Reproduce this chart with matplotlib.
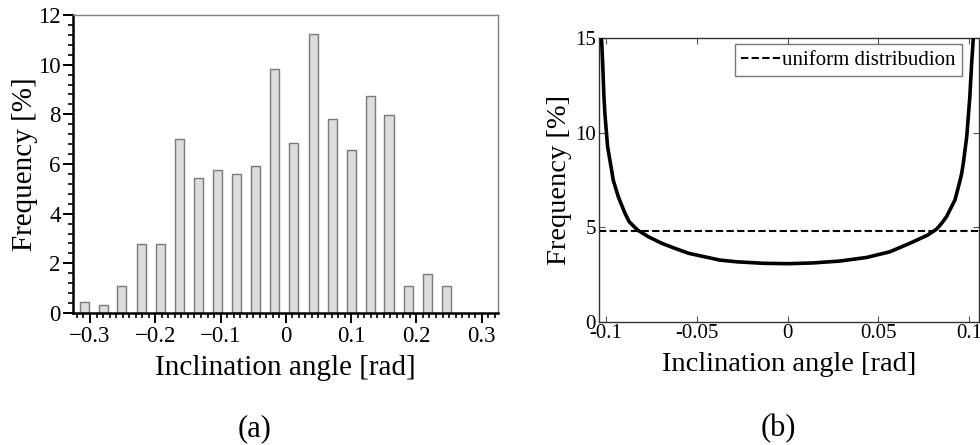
import matplotlib
matplotlib.use("Agg")
import matplotlib.pyplot as plt
from matplotlib.ticker import MultipleLocator, FixedLocator, FixedFormatter

plt.rcParams['font.family'] = ['Liberation Serif', 'DejaVu Serif']

# ---- data (a): histogram of inclination angle ----
bin_centers = [-0.309, -0.280, -0.251, -0.221, -0.192, -0.163, -0.134, -0.104,
               -0.075, -0.046, -0.017, 0.012, 0.042, 0.071, 0.100, 0.129,
               0.158, 0.188, 0.217, 0.246]
freq_a = [0.46, 0.32, 1.10, 2.77, 2.77, 7.00, 5.44, 5.76, 5.60, 5.92, 9.81,
          6.84, 11.23, 7.81, 6.55, 8.73, 7.96, 1.10, 1.57, 1.10]
xticks_a = [-0.3, -0.2, -0.1, 0.0, 0.1, 0.2, 0.3]
xticklabels_a = ['\u22120.3', '\u22120.2', '\u22120.1', '0', '0.1', '0.2', '0.3']
yticks_a = [0, 2, 4, 6, 8, 10, 12]

# ---- data (b): angle distribution curve ----
angle_b = [-0.1024, -0.1018, -0.1011, -0.1006, -0.0991, -0.0969, -0.0960,
           -0.0932, -0.0895, -0.0872, -0.0826, -0.0767, -0.0693, -0.0620,
           -0.0545, -0.0373, -0.0281, -0.0134, 0.0003, 0.0141, 0.0288,
           0.0435, 0.0563, 0.0673, 0.0770, 0.0820, 0.0848, 0.0875, 0.0893,
           0.0921, 0.0950, 0.0958, 0.0967, 0.0986, 0.1003, 0.1013, 0.1022]
freq_b = [14.9, 13.67, 11.9, 11.03, 9.26, 8.03, 7.50,
          6.61, 5.73, 5.29, 4.85, 4.50, 4.15, 3.88,
          3.62, 3.26, 3.17, 3.09, 3.07, 3.11, 3.21,
          3.40, 3.70, 4.15, 4.58, 4.90, 5.21, 5.56, 5.91,
          6.44, 7.50, 7.85, 8.38, 9.8, 11.9, 13.67, 15.0]
uniform_level = 4.8
xticks_b = [-0.1, -0.05, 0.0, 0.05, 0.1]
xticklabels_b = ['-0.1', '-0.05', '0', '0.05', '0.1']
yticks_b = [0, 5, 10, 15]
yticklabels_b = ['0', '5', '10', '15']
legend_label = 'uniform distribudion'

fig = plt.figure(figsize=(9.8, 4.45), dpi=100)

# ---------------- (a) ----------------
ax1 = fig.add_axes([0.0745, 0.2966, 0.4337, 0.6697])
ax1.bar(bin_centers, freq_a, width=0.0138, color='#dcdcdc',
        edgecolor='#7a7a7a', linewidth=1.0, zorder=2)
ax1.set_xlim(-0.326, 0.325)
ax1.set_ylim(0, 12)
ax1.xaxis.set_major_locator(FixedLocator(xticks_a))
ax1.xaxis.set_minor_locator(MultipleLocator(0.01))
ax1.yaxis.set_major_locator(FixedLocator(yticks_a))
ax1.yaxis.set_minor_locator(MultipleLocator(0.4))
ax1.xaxis.set_major_formatter(FixedFormatter(xticklabels_a))
for s in ['left', 'bottom']:
    ax1.spines[s].set_linewidth(1.8)
    ax1.spines[s].set_color('black')
for s in ['top', 'right']:
    ax1.spines[s].set_linewidth(1.0)
    ax1.spines[s].set_color('#808080')
ax1.tick_params(which='major', direction='out', length=7, width=1.4,
                labelsize=16.5, pad=2, color='black')
ax1.tick_params(which='minor', direction='out', length=3.5, width=1.2, color='black')
ax1.tick_params(top=False, right=False, which='both')
ax1.set_xlabel('Inclination angle [rad]', fontsize=21, labelpad=6)
ax1.set_ylabel('Frequency [%]', fontsize=21, labelpad=0)
fig.text(0.2597, 0.036, '(a)', fontsize=22, ha='center', va='center')

# ---------------- (b) ----------------
ax2 = fig.add_axes([0.6109, 0.2771, 0.388, 0.6369])
ax2.plot(angle_b, freq_b, color='black', linewidth=2.6, zorder=3,
         solid_joinstyle='round')
ax2.axhline(uniform_level, color='black', linewidth=1.5,
            dashes=(3.5, 1.6), label=legend_label, zorder=2)
ax2.set_xlim(-0.104, 0.1053)
ax2.set_ylim(0, 15)
ax2.xaxis.set_major_locator(FixedLocator(xticks_b))
ax2.xaxis.set_major_formatter(FixedFormatter(xticklabels_b))
ax2.yaxis.set_major_locator(FixedLocator(yticks_b))
ax2.yaxis.set_major_formatter(FixedFormatter(yticklabels_b))
for s in ax2.spines.values():
    s.set_linewidth(1.0)
    s.set_color('#333333')
ax2.tick_params(which='major', direction='in', length=4.5, width=0.8,
                labelsize=15, pad=2, color='#555555',
                top=True, right=True)
ax2.set_xlabel('Inclination angle [rad]', fontsize=20.5, labelpad=6)
ax2.set_ylabel('Frequency [%]', fontsize=20.5, labelpad=2)
leg = ax2.legend(loc='upper right', bbox_to_anchor=(0.956, 0.979),
                 fontsize=15, frameon=True, fancybox=False,
                 handlelength=1.9, handletextpad=0.1, borderpad=0.3,
                 borderaxespad=0.0)
leg.get_frame().set_edgecolor('#555555')
leg.get_frame().set_linewidth(1.0)
fig.text(0.794, 0.038, '(b)', fontsize=22, ha='center', va='center')

fig.savefig('out.png', dpi=100)
